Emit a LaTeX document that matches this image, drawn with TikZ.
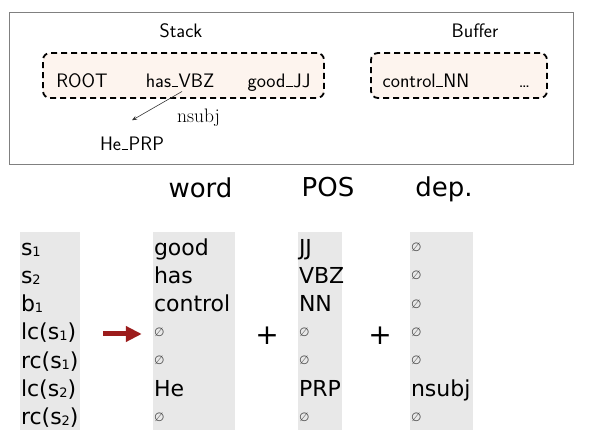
\documentclass[tikz,border=0pt]{standalone}
\usepackage{fontspec}
\newfontfamily\dejavu{DejaVu Sans}
\usetikzlibrary{positioning,arrows.meta}
\definecolor{colgray}{HTML}{E8E8E8}
\definecolor{peach}{HTML}{FDF4EE}
\definecolor{arrowred}{HTML}{9C1C1C}
\definecolor{framegray}{HTML}{808080}
\newcommand{\emptymark}{\raisebox{3.5pt}{\fontsize{12}{12}\selectfont\color{black!70}∅}}
\newcommand{\lsub}[1]{\raisebox{-1pt}{\fontsize{13}{13}\selectfont #1}}
\newcommand{\lowbar}{\kern0.03em\rule[-0.3pt]{0.33em}{0.07em}\kern0.03em}
\tikzstyle{cell} = [inner sep=0.5pt,text height=17pt,text depth=5pt,align=left,font=\dejavu\fontsize{22}{24}\selectfont]
\tikzstyle{toplabel} = [inner sep=0pt,anchor=base,font=\sffamily\fontsize{19.5}{21}\selectfont]

\begin{document}
\begin{tikzpicture}
		[
		x=1pt,y=-1pt,
		node distance=28.33pt,
		stackbox/.style={
		draw,
		rounded corners=7pt,
		fill=peach,
		line width=1.8pt,
		dash pattern=on 6pt off 4pt},
		head/.style={inner sep=0pt,anchor=base,font=\dejavu\fontsize{26}{28}\selectfont},
		plussign/.style={inner sep=0pt,font=\dejavu\fontsize{28}{28}\selectfont},
		bigarrow/.style={-{Triangle[length=16pt,width=15pt]},line width=5pt,arrowred}
		]
		\useasboundingbox (0,0) rectangle (594,444);
		% configuration
		\draw[framegray,line width=0.8pt] (9.3,12.3) rectangle (573,164);
		\node[stackbox,minimum width=281pt,minimum height=45pt](stack) at (183.5,75.5) {};
		\node[stackbox,minimum width=176pt,minimum height=45pt](buffer) at (459,75.5) {};
		\node[toplabel](stacklabel) at (181,37.7) {Stack};
		\node[toplabel](bufferlabel) at (475,37.7) {Buffer};
		\node[toplabel](root) at (82,87) {ROOT};
		\node[toplabel](hasvbz) at (180,87) {has\lowbar VBZ};
		\node[toplabel](goodjj) at (279,87) {good\lowbar JJ};
		\node[toplabel](controlnn) at (426,87) {control\lowbar NN};
		\node[toplabel](rest) at (524.5,87) {\ldots};
		\node[toplabel](heprp) at (132,150) {He\lowbar PRP};
		\node[inner sep=0pt,anchor=base west,font=\rmfamily\fontsize{19.5}{21}\selectfont](nsubj) at (177,122) {nsubj};
		\draw[-{Stealth[length=5pt,width=4pt]},line width=0.6pt,black!80] ([xshift=2pt,yshift=-4pt]hasvbz.south) -- ([yshift=16pt]heprp.north);

		% feature columns
		\fill[colgray] (20,232) rectangle (80,430);
		\fill[colgray] (153,232) rectangle (235,430);
		\fill[colgray] (298,232) rectangle (342,430);
		\fill[colgray] (410,232) rectangle (473,430);

		\node[head](word) at (200.5,197) {word};
		\node[head](pos) at (328,196) {POS};
		\node[head](dep) at (444,196) {dep.};

		\node[cell,text width=58pt](f1) at (50,249) {s\lsub{1}};
		\node[cell,text width=58pt,below of=f1](f2) {s\lsub{2}};
		\node[cell,text width=58pt,below of=f2](f3) {b\lsub{1}};
		\node[cell,text width=58pt,below of=f3](f4) {lc(s\lsub{1})};
		\node[cell,text width=58pt,below of=f4](f5) {rc(s\lsub{1})};
		\node[cell,text width=58pt,below of=f5](f6) {lc(s\lsub{2})};
		\node[cell,text width=58pt,below of=f6](f7) {rc(s\lsub{2})};

		\node[cell,text width=78pt](w1) at (193,249) {good};
		\node[cell,text width=78pt,below of=w1](w2) {has};
		\node[cell,text width=78pt,below of=w2](w3) {control};
		\node[cell,text width=78pt,below of=w3](w4) {\emptymark};
		\node[cell,text width=78pt,below of=w4](w5) {\emptymark};
		\node[cell,text width=78pt,below of=w5](w6) {He};
		\node[cell,text width=78pt,below of=w6](w7) {\emptymark};

		\node[cell,text width=42pt](p1) at (320,249) {JJ};
		\node[cell,text width=42pt,below of=p1](p2) {VBZ};
		\node[cell,text width=42pt,below of=p2](p3) {NN};
		\node[cell,text width=42pt,below of=p3](p4) {\emptymark};
		\node[cell,text width=42pt,below of=p4](p5) {\emptymark};
		\node[cell,text width=42pt,below of=p5](p6) {PRP};
		\node[cell,text width=42pt,below of=p6](p7) {\emptymark};

		\node[cell,text width=60pt](d1) at (441,249) {\emptymark};
		\node[cell,text width=60pt,below of=d1](d2) {\emptymark};
		\node[cell,text width=60pt,below of=d2](d3) {\emptymark};
		\node[cell,text width=60pt,below of=d3](d4) {\emptymark};
		\node[cell,text width=60pt,below of=d4](d5) {\emptymark};
		\node[cell,text width=60pt,below of=d5](d6) {nsubj};
		\node[cell,text width=60pt,below of=d6](d7) {\emptymark};

		\node[plussign](plus1) at (267,336) {+};
		\node[plussign](plus2) at (380,336) {+};

		\draw[bigarrow] ([xshift=23.5pt]f4.east) -- ([xshift=-11.5pt]w4.west);
		\end{tikzpicture}
\end{document}
